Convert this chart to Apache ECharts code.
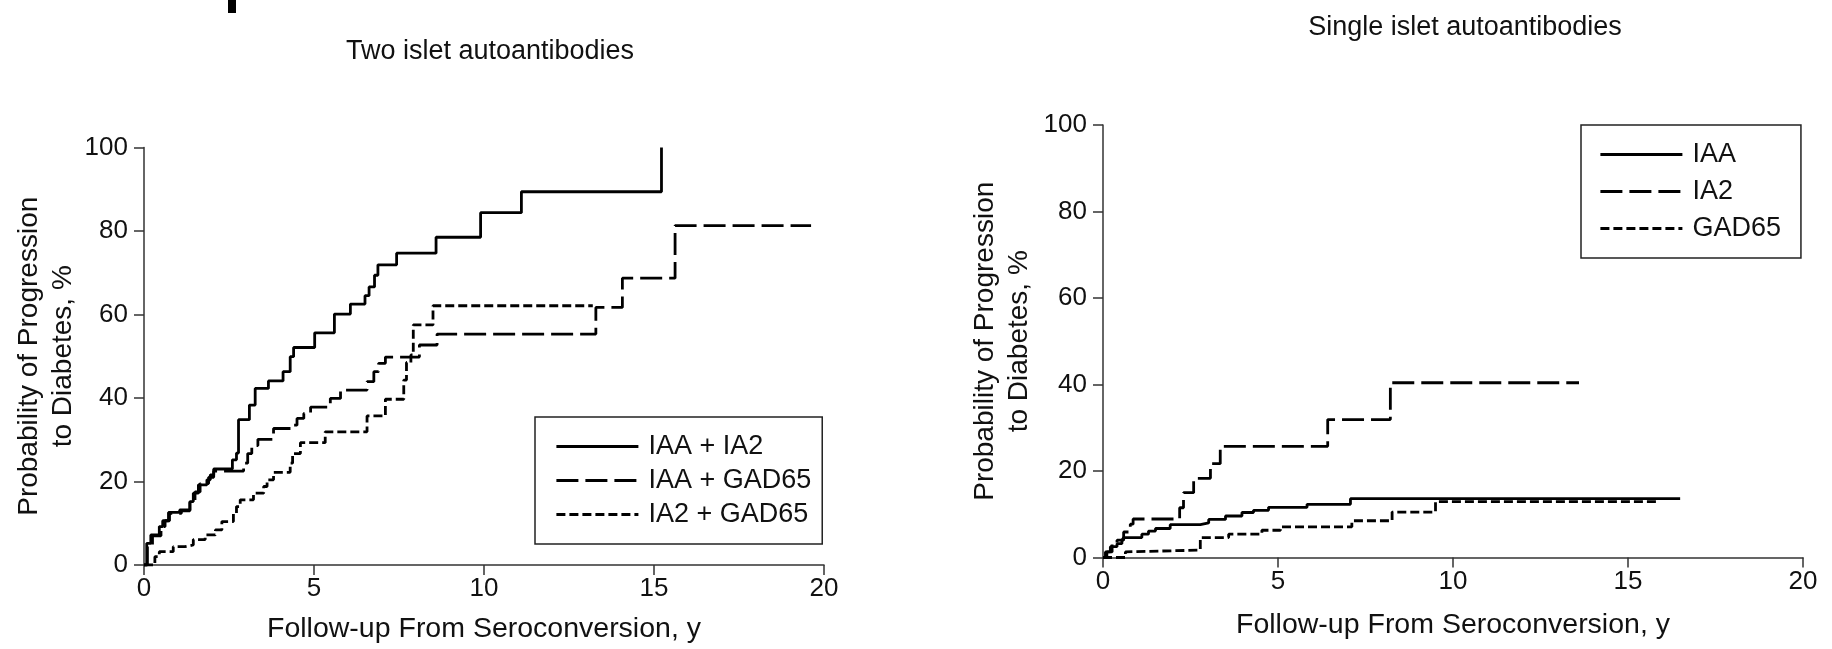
<!DOCTYPE html>
<html>
<head>
<meta charset="utf-8">
<script src="https://cdn.jsdelivr.net/npm/echarts@6/dist/echarts.min.js"></script>
<style>
html,body{margin:0;padding:0;background:#fff;}
#chart{width:1832px;height:649px;}
</style>
</head>
<body>
<div id="chart"></div>
<script>
// ---------- Data ----------
const xTicks = [0, 5, 10, 15, 20];
const yTicks = [0, 20, 40, 60, 80, 100];

// Left panel: Two islet autoantibodies
const iaaIa2X = [0, 0.08, 0.2, 0.45, 0.55, 0.72, 1.05, 1.35, 1.45, 1.6, 1.85, 1.95, 2.05, 2.6, 2.72, 2.78, 3.1, 3.27, 3.66, 4.09, 4.3, 4.4, 5.02, 5.6, 6.07, 6.5, 6.62, 6.78, 6.88, 7.43, 8.59, 9.9, 11.1, 15.22];
const iaaIa2Y = [0, 5.2, 7.2, 9.2, 10.6, 12.6, 13.2, 15.2, 17.2, 19.2, 20.4, 21.6, 23.0, 25.2, 26.8, 34.8, 38.3, 42.3, 44.1, 46.3, 49.9, 52.1, 55.6, 60.1, 62.5, 64.5, 66.6, 69.4, 71.9, 74.7, 78.5, 84.4, 89.4, 100];

const iaaGadX = [0, 0.1, 0.25, 0.5, 0.62, 0.75, 1.1, 1.35, 1.5, 1.65, 1.9, 2.05, 2.93, 3.05, 3.17, 3.35, 3.81, 4.4, 4.5, 4.7, 4.9, 5.48, 5.78, 6.56, 6.76, 6.9, 7.1, 8.1, 8.62, 13.29, 14.07, 15.62, 19.62];
const iaaGadY = [0, 4.5, 7.0, 9.2, 10.6, 12.4, 13.0, 15.0, 17.5, 19.5, 21.0, 22.5, 24.4, 26.7, 28.6, 30.1, 32.7, 33.5, 35.1, 36.3, 37.8, 39.9, 41.9, 43.9, 46.3, 48.3, 49.8, 52.7, 55.3, 61.7, 68.7, 81.3, 81.3];

const ia2GadX = [0, 0.32, 0.45, 0.86, 1.2, 1.45, 1.8, 2.1, 2.29, 2.63, 2.72, 2.83, 3.22, 3.52, 3.62, 3.81, 4.3, 4.37, 4.6, 5.33, 6.56, 7.1, 7.64, 7.72, 7.85, 7.92, 8.5, 13.2];
const ia2GadY = [0, 2.0, 3.2, 4.4, 4.8, 6.1, 7.2, 8.4, 10.4, 12.4, 14.0, 15.6, 17.2, 18.8, 20.4, 22.2, 24.4, 26.7, 29.3, 31.9, 35.7, 39.7, 44.3, 48.5, 50.3, 57.5, 62.1, 62.1];

// Right panel: Single islet autoantibodies
const iaaX = [0, 0.07, 0.21, 0.4, 0.54, 0.59, 1.11, 1.3, 1.5, 1.92, 2.78, 3.02, 3.5, 3.97, 4.3, 4.73, 5.83, 7.07, 16.49];
const iaaY = [0, 1.3, 2.5, 3.2, 4.0, 4.6, 5.4, 6.1, 6.7, 7.6, 8.0, 8.8, 9.6, 10.4, 10.9, 11.6, 12.3, 13.6, 13.6];

const ia2X = [0, 0.11, 0.26, 0.4, 0.59, 0.78, 0.86, 2.19, 2.3, 2.59, 3.07, 3.35, 6.42, 8.21, 13.6];
const ia2Y = [0, 1.3, 3.2, 4.0, 5.9, 7.7, 8.9, 11.5, 15.0, 18.3, 21.7, 25.7, 31.9, 40.4, 40.4];

const gadX = [0, 0.64, 0.69, 2.78, 3.59, 4.54, 5.07, 7.11, 8.26, 9.5, 15.83];
const gadY = [0, 1.3, 1.7, 4.6, 5.4, 6.3, 7.1, 8.5, 10.5, 12.9, 12.9];

const leftTitle = 'Two islet autoantibodies';
const rightTitle = 'Single islet autoantibodies';
const xName = 'Follow-up From Seroconversion, y';
const yName = 'Probability of Progression\nto Diabetes, %';
const leftNames = ['IAA + IA2', 'IAA + GAD65', 'IA2 + GAD65'];
const rightNames = ['IAA', 'IA2', 'GAD65'];

// ---------- Chart ----------
const FONT = 'Liberation Sans, Arial, Helvetica, sans-serif';
const TXT = '#111';
const AX = '#333';
const LONG = [22, 7];
const SHORT = [9, 4];
const LW = 2.8;

function zip(xs, ys) { return xs.map((x, i) => [x, ys[i]]); }

function xAxis(gi, gap) {
  return {
    gridIndex: gi, type: 'value', min: xTicks[0], max: xTicks[xTicks.length - 1], interval: 5,
    axisLine: { show: true, lineStyle: { color: AX, width: 1.5 } },
    axisTick: { show: true, inside: false, length: 10, lineStyle: { color: AX, width: 1.5 } },
    axisLabel: { fontSize: 26, color: TXT, fontFamily: FONT, margin: 11 },
    splitLine: { show: false },
    name: xName, nameLocation: 'middle', nameGap: gap,
    nameTextStyle: { fontSize: 28.5, color: TXT, fontFamily: FONT }
  };
}
function yAxis(gi, gap) {
  return {
    gridIndex: gi, type: 'value', min: yTicks[0], max: yTicks[yTicks.length - 1], interval: 20,
    axisLine: { show: true, lineStyle: { color: AX, width: 1.5 } },
    axisTick: { show: true, inside: false, length: 10, lineStyle: { color: AX, width: 1.5 } },
    axisLabel: { fontSize: 26, color: TXT, fontFamily: FONT, margin: 16 },
    splitLine: { show: false },
    name: yName, nameLocation: 'middle', nameGap: gap,
    nameTextStyle: { fontSize: 28, color: TXT, fontFamily: FONT, lineHeight: 34 }
  };
}
function series(name, gi, data, dash) {
  return {
    name: name, type: 'line', xAxisIndex: gi, yAxisIndex: gi, step: 'end',
    data: data, symbol: 'none', showSymbol: false,
    lineStyle: { color: '#000', width: LW, type: dash },
    itemStyle: { color: '#000' },
    emphasis: { disabled: true }, animation: false, silent: true
  };
}
function legend(names, left, top, gap, pad) {
  return {
    data: names, orient: 'vertical', left: left, top: top, padding: pad,
    borderColor: '#222', borderWidth: 1.5, itemWidth: 82, itemHeight: 14, itemGap: gap,
    selectedMode: false,
    textStyle: { fontSize: 27, color: TXT, fontFamily: FONT, padding: [0, 0, 0, 5] },
    itemStyle: { opacity: 0 },
    lineStyle: { width: LW }
  };
}

const chart = echarts.init(document.getElementById('chart'), null, { renderer: 'canvas' });
chart.setOption({
  backgroundColor: '#fff',
  animation: false,
  title: [
    { text: leftTitle, left: 485, top: 33, textAlign: 'center',
      textStyle: { fontSize: 27, fontWeight: 'normal', color: TXT, fontFamily: FONT } },
    { text: rightTitle, left: 1460, top: 9, textAlign: 'center',
      textStyle: { fontSize: 27, fontWeight: 'normal', color: TXT, fontFamily: FONT } }
  ],
  grid: [
    { left: 144, top: 147.5, width: 680, height: 417.5 },
    { left: 1103, top: 125, width: 700, height: 432.5 }
  ],
  xAxis: [xAxis(0, 50), xAxis(1, 53)],
  yAxis: [yAxis(0, 64), yAxis(1, 67)],
  legend: [
    legend(leftNames, 535, 417, 7, [16, 11, 16, 20]),
    legend(rightNames, 1581, 125, 10, [16, 20, 16, 18])
  ],
  graphic: [
    { type: 'rect', left: 228, top: 0, shape: { width: 8, height: 13 }, style: { fill: '#000' } }
  ],
  series: [
    series(leftNames[0], 0, zip(iaaIa2X, iaaIa2Y), 'solid'),
    series(leftNames[1], 0, zip(iaaGadX, iaaGadY), LONG),
    series(leftNames[2], 0, zip(ia2GadX, ia2GadY), SHORT),
    series(rightNames[0], 1, zip(iaaX, iaaY), 'solid'),
    series(rightNames[1], 1, zip(ia2X, ia2Y), LONG),
    series(rightNames[2], 1, zip(gadX, gadY), SHORT)
  ]
});
</script>
</body>
</html>
